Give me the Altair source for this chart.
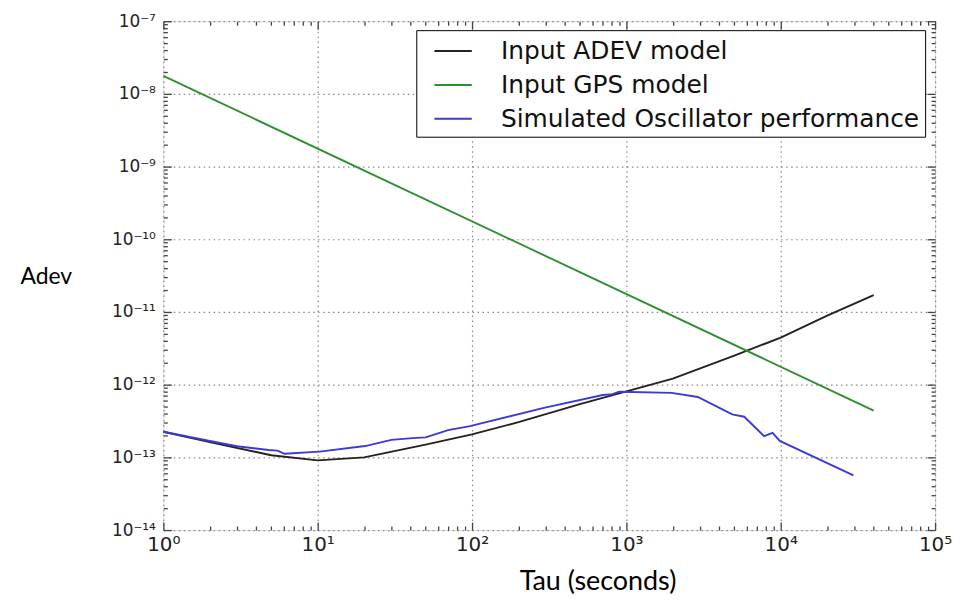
import altair as alt
import pandas as pd

# ---- data ----
adev_tau = [1, 2, 5, 10, 20, 50, 100, 200, 500, 1000, 2000, 5000, 10000, 20000, 40000]
adev_val = [2.25e-13, 1.62e-13, 1.07e-13, 9.1e-14, 1.0e-13, 1.5e-13, 2.07e-13, 3.05e-13,
            5.4e-13, 8.1e-13, 1.21e-12, 2.5e-12, 4.45e-12, 8.9e-12, 1.71e-11]

gps_tau = [1, 40000]
gps_val = [1.77e-8, 4.4e-13]

sim_tau = [1, 2, 3, 4.8, 5.5, 6.1, 10.3, 20.3, 30, 41, 50, 70, 97, 292, 703, 812, 898,
           1963, 2900, 4850, 5800, 7800, 8850, 9860, 29600]
sim_val = [2.25e-13, 1.68e-13, 1.42e-13, 1.26e-13, 1.24e-13, 1.12e-13, 1.2e-13, 1.43e-13,
           1.74e-13, 1.84e-13, 1.88e-13, 2.37e-13, 2.69e-13, 4.8e-13, 7.2e-13, 7.4e-13,
           8.0e-13, 7.7e-13, 6.76e-13, 3.9e-13, 3.62e-13, 1.96e-13, 2.18e-13, 1.68e-13, 5.66e-14]

series_names = ["Input ADEV model", "Input GPS model", "Simulated Oscillator performance"]
series_colors = ["#222222", "#2f8f2f", "#3a3ad6"]

x_major = [1, 10, 100, 1000, 10000, 100000]
y_major = [1e-14, 1e-13, 1e-12, 1e-11, 1e-10, 1e-9, 1e-8, 1e-7]
x_minor = [k * 10 ** d for d in range(0, 5) for k in range(2, 10)]
y_minor = [k * 10.0 ** d for d in range(-14, -7) for k in range(2, 10)]

rows = []
for name, taus, vals in zip(series_names, [adev_tau, gps_tau, sim_tau], [adev_val, gps_val, sim_val]):
    for i, (t, v) in enumerate(zip(taus, vals)):
        rows.append({"tau": t, "adev": v, "series": name, "i": i})
df = pd.DataFrame(rows)

sup = str.maketrans("-0123456789", "⁻⁰¹²³⁴⁵⁶⁷⁸⁹")


def label_expr(exps):
    e = "round(log(datum.value)/LN10)"
    parts = [f"{e} == {k} ? '10{str(k).translate(sup)}'" for k in exps]
    return " : ".join(parts) + " : ''"


xscale = alt.Scale(type="log", domain=[1, 1e5], nice=False)
yscale = alt.Scale(type="log", domain=[1e-14, 1e-7], nice=False)

W, H = 775, 511
tick_color = "#444444"

main = alt.Chart(df).mark_line(strokeWidth=1.9).encode(
    x=alt.X("tau:Q", scale=xscale, axis=alt.Axis(
        values=x_major, labelExpr=label_expr(range(0, 6)), ticks=False, domain=False,
        grid=True, gridDash=[1.5, 3.5], gridColor="#888888", gridWidth=1.2,
        labelFont="DejaVu Sans", labelFontSize=20, labelColor="#222222", labelPadding=5,
        labelFlush=False, labelOverlap=False,
        title="Tau (seconds)", titleFont="Lato", titleFontSize=27, titleFontWeight="normal",
        titleColor="#000000", titleX=436, titleY=60, titleAlign="center", titleBaseline="alphabetic",
        orient="bottom")),
    y=alt.Y("adev:Q", scale=yscale, axis=alt.Axis(
        values=y_major, labelExpr=label_expr(range(-14, -6)), ticks=False, domain=False,
        grid=True, gridDash=[1.5, 3.5], gridColor="#888888", gridWidth=1.2,
        labelFont="DejaVu Sans", labelFontSize=17, labelColor="#222222", labelPadding=8,
        labelFlush=False, labelOverlap=False,
        title="Adev", titleFont="Lato", titleFontSize=23, titleFontWeight="normal",
        titleColor="#000000", titleAngle=0, titleX=-144, titleY=256, titleAlign="left",
        titleBaseline="middle", orient="left")),
    color=alt.Color("series:N", scale=alt.Scale(domain=series_names, range=series_colors),
                    legend=alt.Legend(
                        orient="none", legendX=254, legendY=9, title=None,
                        strokeColor="#000000", fillColor="#ffffff", padding=5,
                        symbolType="M-1.25,0H1.25", symbolSize=900, symbolStrokeWidth=2,
                        symbolOffset=16, labelOffset=32, labelFont="DejaVu Sans",
                        labelFontSize=25, labelColor="#111111", labelLimit=800,
                        rowPadding=5)),
    order=alt.Order("i:Q"),
)


def tick_layer(xorient, yorient, xvals, yvals, size):
    return alt.Chart(df).mark_point(opacity=0).encode(
        x=alt.X("tau:Q", scale=xscale, axis=alt.Axis(
            values=xvals, orient=xorient, offset=-size, tickSize=size, tickColor=tick_color,
            tickWidth=1.3, labels=False, domain=False, grid=False, title=None)),
        y=alt.Y("adev:Q", scale=yscale, axis=alt.Axis(
            values=yvals, orient=yorient, offset=-size, tickSize=size, tickColor=tick_color,
            tickWidth=1.3, labels=False, domain=False, grid=False, title=None)),
    )


layers = [
    tick_layer("bottom", "left", x_major, y_major, 8),
    tick_layer("bottom", "left", x_minor, y_minor, 4),
    tick_layer("top", "right", x_major, y_major, 8),
    tick_layer("top", "right", x_minor, y_minor, 4),
    main,
]

chart = alt.layer(*layers).resolve_axis(x="independent", y="independent").properties(
    width=W, height=H,
    autosize=alt.AutoSizeParams(type="none"),
    padding={"left": 156, "top": 12, "right": 20, "bottom": 70},
).configure_view(stroke="#4a4a4a", strokeWidth=2).configure(background="#ffffff")

chart.save("out.html", embed_options={"renderer": "svg", "actions": False})
